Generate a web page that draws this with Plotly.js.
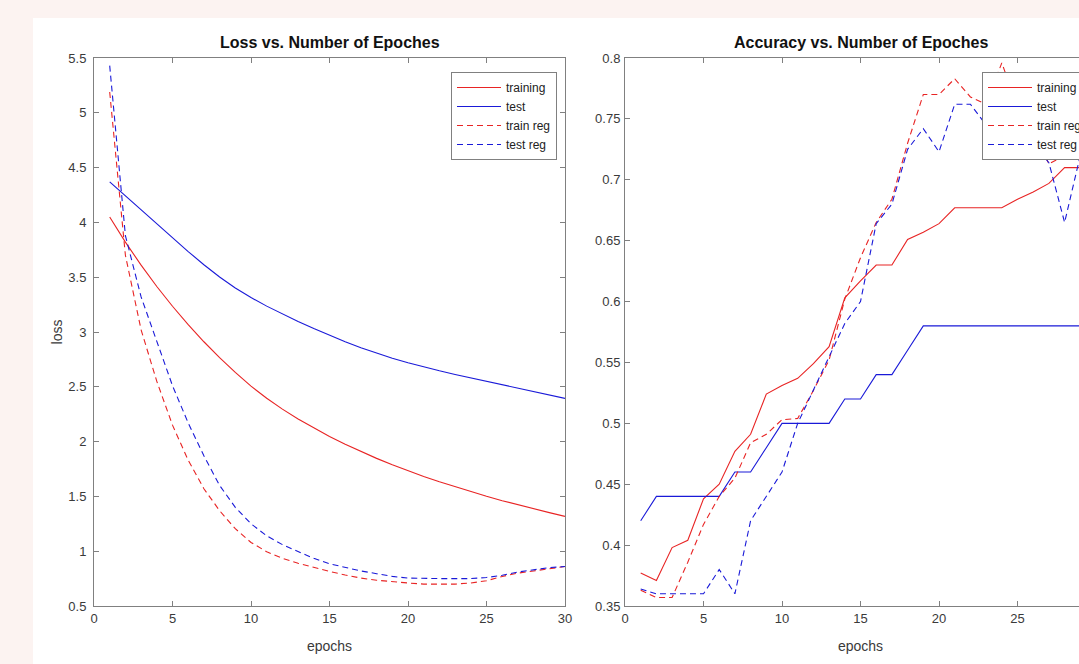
<!DOCTYPE html>
<html>
<head>
<meta charset="utf-8">
<script src="https://cdn.plot.ly/plotly-3.0.1.min.js"></script>
<style>
  html, body { margin: 0; padding: 0; overflow: hidden; background: #fcf3f1; }
  #chart { width: 1110px; height: 664px; }
</style>
</head>
<body>
<div id="chart"></div>
<script>
// ---- data ----
const epochs = [1,2,3,4,5,6,7,8,9,10,11,12,13,14,15,16,17,18,19,20,21,22,23,24,25,26,27,28,29,30];
const seriesNames = ['training', 'test', 'train reg', 'test reg'];

const lossTraining = [4.05,3.82,3.61,3.415,3.235,3.067,2.911,2.766,2.631,2.506,2.396,2.296,2.206,2.123,2.046,1.975,1.909,1.847,1.789,1.734,1.682,1.633,1.587,1.543,1.501,1.461,1.423,1.387,1.352,1.318];
const lossTest     = [4.37,4.242,4.114,3.986,3.859,3.734,3.614,3.502,3.402,3.314,3.236,3.164,3.096,3.031,2.969,2.911,2.857,2.807,2.761,2.719,2.681,2.646,2.613,2.581,2.549,2.518,2.487,2.456,2.425,2.394];
const lossTrainReg = [5.19,3.70,3.02,2.55,2.15,1.83,1.57,1.37,1.205,1.08,0.995,0.935,0.89,0.85,0.815,0.783,0.755,0.735,0.72,0.71,0.70,0.70,0.70,0.71,0.73,0.77,0.80,0.82,0.84,0.86];
const lossTestReg  = [5.43,3.88,3.32,2.92,2.51,2.17,1.87,1.60,1.40,1.25,1.14,1.06,0.995,0.935,0.885,0.85,0.82,0.795,0.77,0.755,0.75,0.75,0.75,0.75,0.76,0.78,0.81,0.83,0.85,0.86];

const accTraining = [0.377,0.371,0.398,0.404,0.438,0.450,0.477,0.491,0.524,0.531,0.537,0.549,0.563,0.603,0.617,0.630,0.630,0.651,0.657,0.664,0.677,0.677,0.677,0.677,0.684,0.690,0.697,0.710,0.710,0.710];
const accTest     = [0.42,0.44,0.44,0.44,0.44,0.44,0.46,0.46,0.48,0.50,0.50,0.50,0.50,0.52,0.52,0.54,0.54,0.56,0.58,0.58,0.58,0.58,0.58,0.58,0.58,0.58,0.58,0.58,0.58,0.58];
const accTrainReg = [0.363,0.357,0.357,0.386,0.417,0.440,0.455,0.484,0.491,0.503,0.504,0.527,0.552,0.602,0.636,0.665,0.684,0.730,0.770,0.770,0.783,0.768,0.762,0.796,0.760,0.740,0.713,0.720,0.720,0.720];
const accTestReg  = [0.364,0.360,0.360,0.360,0.360,0.380,0.360,0.420,0.440,0.460,0.500,0.527,0.554,0.582,0.600,0.664,0.680,0.725,0.742,0.723,0.762,0.762,0.745,0.740,0.735,0.730,0.714,0.665,0.720,0.720];

const lossTicks = [0.5,1,1.5,2,2.5,3,3.5,4,4.5,5,5.5];
const accTicks = [0.35,0.4,0.45,0.5,0.55,0.6,0.65,0.7,0.75,0.8];
const epochTicks = [0,5,10,15,20,25,30];
const epochTicksVisible = [0,5,10,15,20,25];

// ---- styles ----
const RED = '#e82424';
const BLUE = '#1a1ad8';
const styles = [
  {color: RED, width: 1.1},
  {color: BLUE, width: 1.1},
  {color: RED, width: 1.1, dash: '6px,4px'},
  {color: BLUE, width: 1.1, dash: '6px,4px'}
];

function mk(y, i, xa, ya, lg) {
  return {x: epochs, y: y, type: 'scatter', mode: 'lines', name: seriesNames[i],
          line: styles[i], xaxis: xa, yaxis: ya, legend: lg, hoverinfo: 'skip'};
}

const traces = [
  mk(lossTraining, 0, 'x', 'y', 'legend'),
  mk(lossTest, 1, 'x', 'y', 'legend'),
  mk(lossTrainReg, 2, 'x', 'y', 'legend'),
  mk(lossTestReg, 3, 'x', 'y', 'legend'),
  mk(accTraining, 0, 'x2', 'y2', 'legend2'),
  mk(accTest, 1, 'x2', 'y2', 'legend2'),
  mk(accTrainReg, 2, 'x2', 'y2', 'legend2'),
  mk(accTestReg, 3, 'x2', 'y2', 'legend2')
];

const W = 1110, H = 664;
const AX = '#808080';
const TXT = '#3a3a3a';
const FONT = 'Liberation Sans, Arial, Helvetica, sans-serif';
const yDom = [1 - 606 / H, 1 - 58 / H];

function xAxis(dom, anchor, ticks, title) {
  return {
    domain: dom, anchor: anchor, range: [0, 30], tickvals: ticks,
    showline: true, mirror: 'allticks', linecolor: AX, linewidth: 1,
    ticks: 'inside', ticklen: 5, tickcolor: AX, tickwidth: 1,
    showgrid: false, zeroline: false, fixedrange: true,
    tickfont: {size: 13, color: TXT, family: FONT},
    title: {text: title, font: {size: 14, color: TXT, family: FONT}, standoff: 16}
  };
}
function yAxis(anchor, range, ticks, title, lso, tso) {
  return {
    domain: yDom, anchor: anchor, range: range, tickvals: ticks,
    showline: true, mirror: 'allticks', linecolor: AX, linewidth: 1,
    ticks: 'inside', ticklen: 5, tickcolor: AX, tickwidth: 1,
    showgrid: false, zeroline: false, fixedrange: true,
    ticklabelstandoff: lso,
    tickfont: {size: 13, color: TXT, family: FONT},
    title: {text: title, font: {size: 14, color: TXT, family: FONT}, standoff: tso}
  };
}
function legendBox(xRight) {
  return {
    x: xRight / W, xanchor: 'right', y: 1 - 72 / H, yanchor: 'top',
    bgcolor: '#ffffff', bordercolor: AX, borderwidth: 1,
    font: {size: 12, color: '#222222', family: FONT},
    itemwidth: 44, tracegroupgap: 0, traceorder: 'normal'
  };
}

const layout = {
  width: W, height: H,
  margin: {l: 0, r: 0, t: 0, b: 0},
  paper_bgcolor: '#fcf3f1',
  plot_bgcolor: 'rgba(0,0,0,0)',
  font: {family: FONT, color: TXT},
  showlegend: true,
  xaxis: xAxis([94 / W, 565 / W], 'y', epochTicks, 'epochs'),
  yaxis: yAxis('x', [0.5, 5.5], lossTicks, 'loss', 4, 2),
  xaxis2: xAxis([625 / W, 1096 / W], 'y2', epochTicksVisible, 'epochs'),
  yaxis2: yAxis('x2', [0.35, 0.8], accTicks, '', 1, 2),
  legend: legendBox(557),
  legend2: legendBox(1088),
  shapes: [{type: 'rect', xref: 'paper', yref: 'paper', x0: 33 / W, x1: 1, y0: 0, y1: 1 - 18 / H,
            fillcolor: '#ffffff', line: {width: 0}, layer: 'below'}],
  annotations: [
    {text: '<b>Loss vs. Number of Epoches</b>', xref: 'paper', yref: 'paper',
     x: (94 + 565) / 2 / W, y: 1 - 42 / H, xanchor: 'center', yanchor: 'middle', showarrow: false,
     font: {size: 16, color: '#111111', family: FONT}},
    {text: '<b>Accuracy vs. Number of Epoches</b>', xref: 'paper', yref: 'paper',
     x: (625 + 1096) / 2 / W, y: 1 - 42 / H, xanchor: 'center', yanchor: 'middle', showarrow: false,
     font: {size: 16, color: '#111111', family: FONT}}
  ]
};

Plotly.newPlot('chart', traces, layout, {displayModeBar: false, staticPlot: true});
</script>
</body>
</html>
